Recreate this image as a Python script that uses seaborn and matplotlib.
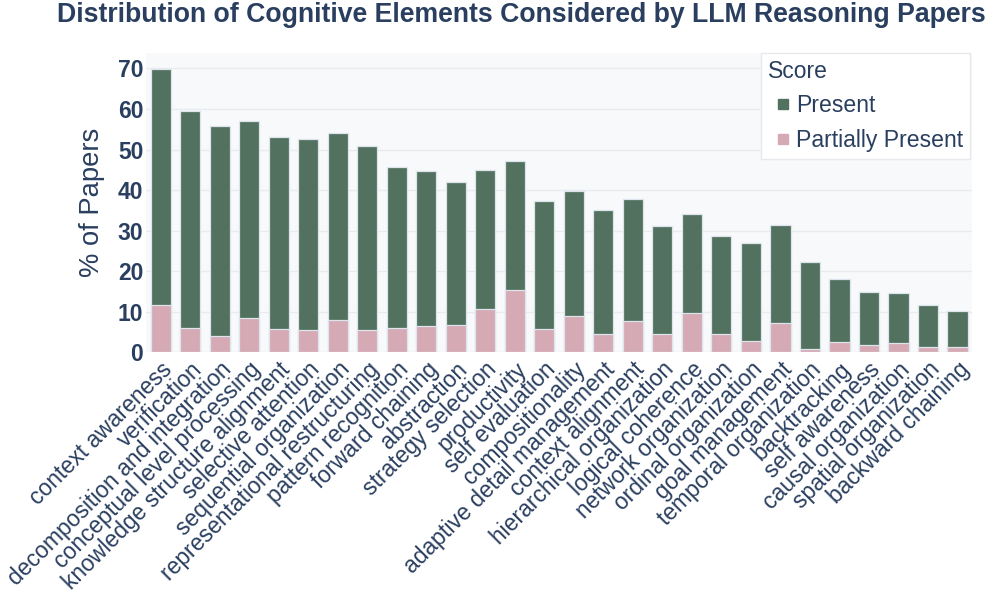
import matplotlib
matplotlib.use("Agg")
import matplotlib.pyplot as plt
from matplotlib.lines import Line2D
import seaborn as sns
import pandas as pd

elements = [
    "context awareness", "verification", "decomposition and integration",
    "conceptual level processing", "knowledge structure alignment",
    "selective attention", "sequential organization",
    "representational restructuring", "pattern recognition",
    "forward chaining", "abstraction", "strategy selection", "productivity",
    "self evaluation", "compositionality", "adaptive detail management",
    "context alignment", "hierarchical organization", "logical coherence",
    "network organization", "ordinal organization", "goal management",
    "temporal organization", "backtracking", "self awareness",
    "causal organization", "spatial organization", "backward chaining",
]
present = [58.1, 53.6, 51.9, 48.6, 47.5, 47.1, 46.0, 45.3, 39.7, 38.4,
           35.4, 34.3, 31.8, 31.7, 30.9, 30.8, 29.9, 26.7, 24.3, 24.2,
           24.1, 24.0, 21.6, 15.4, 12.9, 12.1, 10.2, 8.9]
partially_present = [11.7, 5.9, 4.0, 8.4, 5.7, 5.6, 8.0, 5.6, 6.1, 6.4,
                     6.7, 10.6, 15.4, 5.7, 8.9, 4.4, 7.8, 4.4, 9.8, 4.4,
                     2.8, 7.3, 0.7, 2.6, 1.9, 2.4, 1.4, 1.2]

df = pd.DataFrame({"element": elements, "present": present,
                   "partial": partially_present})
df["total"] = df["present"] + df["partial"]

text_color = "#2a3f5f"
green = "#52715f"
pink = "#d5aab4"
edge = "#dde4ec"

sns.set_theme(style="white")
plt.rcParams["font.family"] = ["Liberation Sans", "DejaVu Sans"]

fig = plt.figure(figsize=(9.96, 5.96), dpi=100)
ax = fig.add_axes([0.1466, 0.409, 0.8294, 0.502])
ax.set_facecolor("#f7f9fa")

# stacked look: totals in green, partial share drawn over the bottom
sns.barplot(data=df, x="element", y="total", color=green, width=0.69,
            saturation=1, edgecolor=edge, linewidth=0.9, ax=ax, zorder=3)
sns.barplot(data=df, x="element", y="partial", color=pink, width=0.69,
            saturation=1, edgecolor=edge, linewidth=0.9, ax=ax, zorder=3)

ax.set_xlim(-0.5, len(elements) - 0.5)
ax.set_ylim(0, 73.8)
ax.set_yticks(range(0, 71, 10))
ax.grid(axis="y", color="#e8ecf0", linewidth=1, zorder=0)
ax.set_axisbelow(True)
for s in ax.spines.values():
    s.set_visible(False)

ax.tick_params(axis="y", length=0, pad=2, labelsize=16.5, labelcolor=text_color)
for lbl in ax.get_yticklabels():
    lbl.set_fontweight("bold")
ax.tick_params(axis="x", length=0, pad=4, labelsize=16.5, labelcolor=text_color)
ax.set_xticks(range(len(elements)))
ax.set_xticklabels(elements, rotation=45, ha="right", va="top",
                   rotation_mode="anchor")

ax.set_xlabel("")
ax.set_ylabel("% of Papers", fontsize=19.7, color=text_color, labelpad=9)

fig.suptitle("Distribution of Cognitive Elements Considered by LLM Reasoning Papers",
             x=0.523, y=0.997, fontsize=19.2, fontweight="bold", color=text_color)

handles = [
    Line2D([], [], marker="s", linestyle="", markersize=7, color=green),
    Line2D([], [], marker="s", linestyle="", markersize=7, color=pink),
]
leg = ax.legend(handles, ["Present", "Partially Present"], title="Score",
                loc="upper right", bbox_to_anchor=(0.998, 1.0), borderaxespad=0,
                frameon=True, fontsize=16.6, title_fontsize=16.5,
                labelcolor=text_color, handlelength=1.3, handletextpad=-0.05,
                borderpad=0.3, labelspacing=0.5, fancybox=False,
                framealpha=1)
leg.get_frame().set_edgecolor("#e6eaee")
leg.get_frame().set_linewidth(1)
leg.get_title().set_color(text_color)
leg._legend_box.align = "left"

fig.savefig("out.png", dpi=100)
